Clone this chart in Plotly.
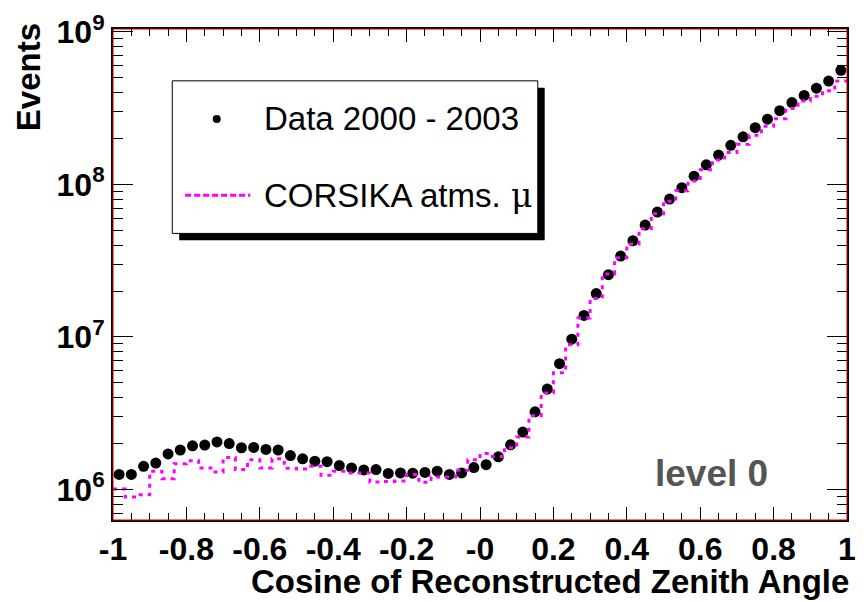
import numpy as np
import plotly.graph_objects as go

# ---------------- data ----------------
n_bins = 60
x_low, x_high = -1.0, 1.0
bin_edges = np.linspace(x_low, x_high, n_bins + 1)
bin_centers = 0.5 * (bin_edges[:-1] + bin_edges[1:])

data_events = [
    1.255e6, 1.255e6, 1.419e6, 1.490e6, 1.712e6, 1.815e6, 1.934e6, 1.954e6, 2.052e6, 2.001e6,
    1.878e6, 1.886e6, 1.831e6, 1.815e6, 1.669e6, 1.590e6, 1.534e6, 1.521e6, 1.434e6, 1.384e6,
    1.343e6, 1.352e6, 1.274e6, 1.285e6, 1.280e6, 1.293e6, 1.318e6, 1.255e6, 1.285e6, 1.392e6,
    1.455e6, 1.637e6, 1.963e6, 2.378e6, 3.228e6, 4.552e6, 6.683e6, 9.667e6, 1.384e7, 1.926e7,
    2.561e7, 3.389e7, 4.273e7, 5.413e7, 6.586e7, 8.013e7, 9.524e7, 1.132e8, 1.344e8, 1.557e8,
    1.805e8, 2.052e8, 2.354e8, 2.677e8, 3.043e8, 3.440e8, 3.831e8, 4.273e8, 4.760e8, 5.598e8,
]

mc_events = [
    1.006e6, 0.892e6, 0.925e6, 1.318e6, 1.176e6, 1.476e6, 1.542e6, 1.384e6, 1.304e6, 1.620e6,
    1.351e6, 1.566e6, 1.384e6, 1.588e6, 1.378e6, 1.363e6, 1.419e6, 1.239e6, 1.318e6, 1.285e6,
    1.285e6, 1.120e6, 1.129e6, 1.137e6, 1.252e6, 1.115e6, 1.206e6, 1.206e6, 1.337e6, 1.566e6,
    1.719e6, 1.644e6, 1.878e6, 2.209e6, 3.043e6, 4.293e6, 5.829e6, 8.887e6, 1.332e7, 1.789e7,
    2.587e7, 3.305e7, 4.076e7, 5.124e7, 6.423e7, 7.746e7, 9.073e7, 1.052e8, 1.248e8, 1.446e8,
    1.620e8, 1.831e8, 2.101e8, 2.403e8, 2.692e8, 3.149e8, 3.522e8, 3.781e8, 4.108e8, 4.760e8,
]

x_tick_vals = [-1, -0.8, -0.6, -0.4, -0.2, 0, 0.2, 0.4, 0.6, 0.8, 1]
x_tick_text = ["-1", "-0.8", "-0.6", "-0.4", "-0.2", "-0", "0.2", "0.4", "0.6", "0.8", "1"]
y_tick_vals = [1e6, 1e7, 1e8, 1e9]
y_tick_text = ["10<sup>6</sup>", "10<sup>7</sup>", "10<sup>8</sup>", "10<sup>9</sup>"]

legend_labels = ["Data 2000 - 2003", "CORSIKA atms.<span style='font-family:DejaVu Serif'> μ</span>"]

# ---------------- layout helpers ----------------
W, H = 866, 602
L, R, T, B = 113, 10, 18, 82
PW, PH = W - L - R, H - T - B
FONT = "Liberation Sans, Arial, Helvetica, sans-serif"
MAGENTA = "#ff00ff"


def px(xp):
    return (xp - L) / PW


def py(yp):
    return (H - B - yp) / PH


fig = go.Figure()

fig.add_trace(go.Scatter(
    x=bin_centers, y=data_events, mode="markers",
    marker=dict(color="black", size=11, line=dict(width=0)),
    showlegend=False,
))

mc_x = list(bin_edges)
mc_y = list(mc_events) + [mc_events[-1]]
fig.add_trace(go.Scatter(
    x=mc_x, y=mc_y, mode="lines",
    line=dict(shape="hv", color=MAGENTA, width=3, dash="4px,5px"),
    showlegend=False,
))

axis_common = dict(
    showline=True, linecolor="black", linewidth=2, mirror="allticks",
    ticks="inside", tickcolor="black", tickwidth=1,
    showgrid=False, zeroline=False, ticklabeloverflow="allow",
)

fig.update_xaxes(
    range=[x_low, x_high], tickvals=x_tick_vals, ticktext=x_tick_text,
    ticklen=13,
    minor=dict(ticks="inside", ticklen=7, dtick=0.05, tickcolor="black", tickwidth=1, showgrid=False),
    tickfont=dict(family=FONT, size=32, color="black", weight="bold"),
    **axis_common,
)
fig.update_yaxes(
    type="log", range=[5.8, 9.019], tickvals=y_tick_vals, ticktext=y_tick_text,
    ticklen=20,
    minor=dict(ticks="inside", ticklen=10, dtick="D1", tickcolor="black", tickwidth=1, showgrid=False),
    tickfont=dict(family=FONT, size=32, color="black", weight="bold"),
    **axis_common,
)

shapes = [
    # thin red inner frame
    dict(type="rect", xref="paper", yref="paper", x0=0, x1=1, y0=0, y1=1,
         line=dict(color="#cc0000", width=1), layer="above"),
    # legend shadow
    dict(type="rect", xref="paper", yref="paper", x0=px(180), x1=px(550), y0=py(234), y1=py(78),
         fillcolor="black", line=dict(width=0), layer="above"),
    # legend box
    dict(type="rect", xref="paper", yref="paper", x0=px(173), x1=px(543), y0=py(227), y1=py(71),
         fillcolor="white", line=dict(color="black", width=1), layer="above"),
    # legend marker
    dict(type="circle", xref="paper", yref="paper", xsizemode="pixel", ysizemode="pixel",
         xanchor=px(218), yanchor=py(110), x0=-4, x1=4, y0=-4, y1=4,
         fillcolor="black", line=dict(width=0), layer="above"),
    # legend line
    dict(type="line", xref="paper", yref="paper", x0=px(186), x1=px(252), y0=py(188), y1=py(188),
         line=dict(color=MAGENTA, width=3, dash="6px,3px"), layer="above"),
]

annotations = [
    dict(text=legend_labels[0], xref="paper", yref="paper", x=px(264), y=py(110),
         xanchor="left", yanchor="middle", showarrow=False,
         font=dict(family=FONT, size=33, color="black")),
    dict(text=legend_labels[1], xref="paper", yref="paper", x=px(264), y=py(188),
         xanchor="left", yanchor="middle", showarrow=False,
         font=dict(family=FONT, size=33, color="black")),
    dict(text="level 0", xref="paper", yref="paper", x=px(660), y=py(472),
         xanchor="left", yanchor="middle", showarrow=False,
         font=dict(family=FONT, size=37, color="#555555", weight="bold")),
    dict(text="Events", xref="paper", yref="paper", x=px(27), y=py(10),
         xanchor="center", yanchor="top", textangle=-90, showarrow=False,
         font=dict(family=FONT, size=33, color="black", weight="bold")),
    dict(text="Cosine of Reconstructed Zenith Angle", xref="paper", yref="paper",
         x=px(860), y=py(583), xanchor="right", yanchor="middle", showarrow=False,
         font=dict(family=FONT, size=33, color="black", weight="bold")),
]

fig.update_layout(
    width=W, height=H,
    margin=dict(l=L, r=R, t=T, b=B, pad=0),
    paper_bgcolor="white", plot_bgcolor="white",
    shapes=shapes, annotations=annotations,
    showlegend=False,
)

fig.write_html("out.html")
